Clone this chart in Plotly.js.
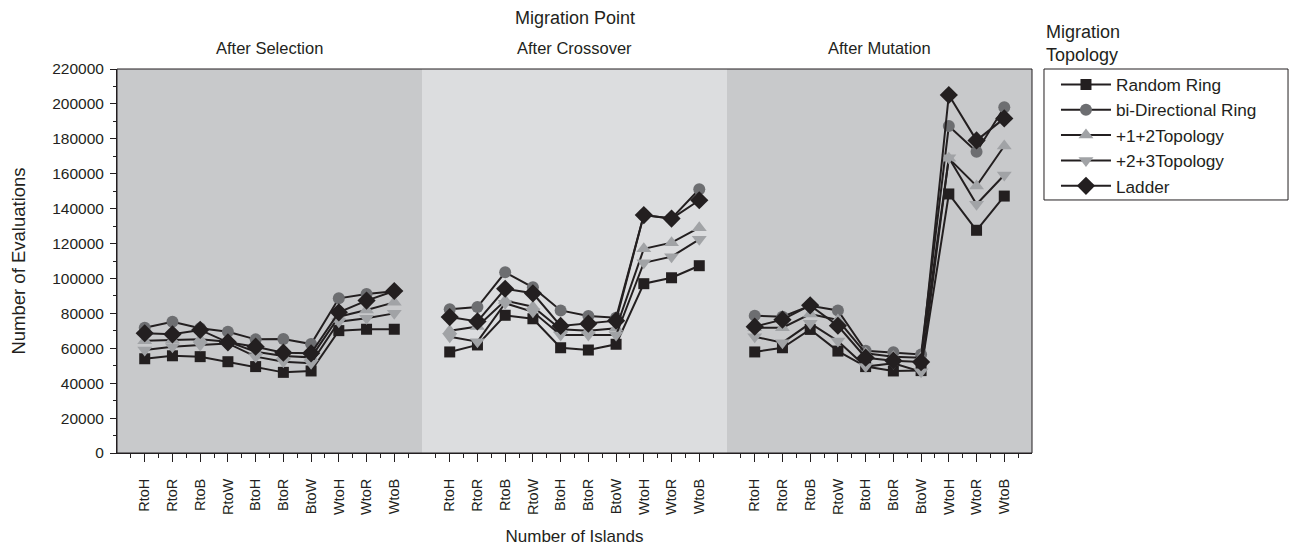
<!DOCTYPE html>
<html>
<head>
<meta charset="utf-8">
<script src="https://cdn.plot.ly/plotly-3.0.1.min.js"></script>
<style>html,body{margin:0;padding:0;background:#fff;}#chart{width:1290px;height:549px;}</style>
</head>
<body>
<div id="chart"></div>
<script>
// ---- data ----
const categories = ["RtoH","RtoR","RtoB","RtoW","BtoH","BtoR","BtoW","WtoH","WtoR","WtoB"];
const panels = ["After Selection","After Crossover","After Mutation"];
const seriesNames = ["Random Ring","bi-Directional Ring","+1+2Topology","+2+3Topology","Ladder"];

const randomRingSel = [54000,55700,55200,52300,49500,46200,47000,70100,70900,70900];
const randomRingCro = [57900,61900,78900,76900,60300,59000,62300,97000,100400,107300];
const randomRingMut = [57900,60300,70800,58400,49500,47000,47200,148400,127600,147200];

const biDirSel = [71800,75200,71500,69500,65100,65300,62400,88600,91100,92600];
const biDirCro = [82300,83600,103500,94900,81700,78500,77500,136300,134400,151100];
const biDirMut = [78700,78100,84400,81700,58600,57700,56500,187300,172600,198100];

const plus12Sel = [64300,64700,65100,63800,58000,55600,54800,78100,81900,86300];
const plus12Cro = [70100,72500,87300,83800,70900,70100,71400,117000,120500,129100];
const plus12Mut = [71800,71800,79600,76200,57100,55200,54600,168800,153000,175900];

const plus23Sel = [59000,60900,61900,62800,55200,52300,51400,75200,77200,80000];
const plus23Cro = [66600,63800,85800,80900,67600,67600,67600,109000,112500,122400];
const plus23Mut = [66600,63200,74300,64200,49500,51400,46600,169200,142500,159300];

const ladderSel = [68600,68000,70500,63400,60900,57500,57100,80600,87300,92800];
const ladderCro = [77900,75400,94100,91500,72800,74100,75800,136300,134300,144800];
const ladderMut = [72400,76400,84600,72900,54600,52900,52100,205100,179100,191700];

const yTickVals = [0,20000,40000,60000,80000,100000,120000,140000,160000,180000,200000,220000];

// ---- styles ----
const seriesData = [
  [randomRingSel, randomRingCro, randomRingMut],
  [biDirSel, biDirCro, biDirMut],
  [plus12Sel, plus12Cro, plus12Mut],
  [plus23Sel, plus23Cro, plus23Mut],
  [ladderSel, ladderCro, ladderMut]
];
const markerStyles = [
  {symbol:"square", size:11, color:"#231f20"},
  {symbol:"circle", size:12, color:"#6d6e71"},
  {symbol:"triangle-up", size:13, color:"#a1a3a6"},
  {symbol:"triangle-down", size:13, color:"#a1a3a6"},
  {symbol:"diamond", size:14, color:"#231f20"}
];
const lineColor = "#231f20";
const xIdx = categories.map((c, i) => i);

const traces = [];
panels.forEach((p, pi) => {
  seriesNames.forEach((name, si) => {
    const ms = markerStyles[si];
    traces.push({
      type: "scatter",
      mode: "lines+markers",
      name: name,
      legendgroup: name,
      showlegend: pi === 0,
      x: xIdx,
      y: seriesData[si][pi],
      xaxis: pi === 0 ? "x" : "x" + (pi + 1),
      yaxis: "y",
      line: {color: lineColor, width: 2},
      marker: {symbol: ms.symbol, size: ms.size, color: ms.color, line: {width: 0}},
      hoverinfo: "x+y+name"
    });
  });
});

const font = "Liberation Sans, Arial, sans-serif";
const ink = "#231f20";
const minorVals = [-0.5,0.5,1.5,2.5,3.5,4.5,5.5,6.5,7.5,8.5,9.5];
function xAxis(domain, withTitle) {
  const ax = {
    domain: domain,
    anchor: "y",
    range: [-1, 10],
    tickmode: "array",
    tickvals: xIdx,
    ticktext: categories,
    tickangle: -90,
    ticks: "outside",
    ticklen: 8,
    tickwidth: 1,
    tickcolor: ink,
    ticklabelstandoff: 11,
    minor: {tickmode: "array", tickvals: minorVals, ticks: "outside", ticklen: 4, tickwidth: 1, tickcolor: ink, showgrid: false},
    showline: true,
    linecolor: ink,
    linewidth: 1,
    showgrid: false,
    zeroline: false,
    fixedrange: true,
    tickfont: {family: font, size: 14.5, color: ink}
  };
  if (withTitle) {
    ax.title = {text: "Number of Islands", font: {family: font, size: 17, color: ink}, standoff: 16};
  }
  return ax;
}

const panelBg = ["#c8c9cb", "#dcdddf", "#c8c9cb"];
const shapes = panelBg.map((c, i) => ({
  type: "rect", layer: "below",
  xref: (i === 0 ? "x" : "x" + (i + 1)) + " domain", yref: "y domain",
  x0: 0, x1: 1, y0: 0, y1: 1,
  fillcolor: c, line: {width: 0}
}));
// frame around plot area
shapes.push({type: "rect", layer: "above", xref: "paper", yref: "paper", x0: 0, x1: 1, y0: 0, y1: 1,
  line: {color: ink, width: 1}, fillcolor: "rgba(0,0,0,0)"});
// legend box
shapes.push({type: "rect", layer: "above", xref: "paper", yref: "paper", x0: 1.0131, x1: 1.2798, y0: 0.6589, y1: 1.0,
  line: {color: ink, width: 1}, fillcolor: "rgba(0,0,0,0)"});

const annotations = [
  {text: "Migration Point", xref: "paper", yref: "paper", x: 0.5, y: 1.133, xanchor: "center", yanchor: "middle", showarrow: false, font: {family: font, size: 18, color: ink}},
  {text: "Migration<br>Topology", xref: "paper", yref: "paper", x: 1.013, y: 1.066, xanchor: "left", yanchor: "middle", align: "left", showarrow: false, font: {family: font, size: 18, color: ink}}
];
panels.forEach((p, i) => {
  annotations.push({text: p, xref: (i === 0 ? "x" : "x" + (i + 1)) + " domain", yref: "paper", x: 0.5, y: 1.055,
    xanchor: "center", yanchor: "middle", showarrow: false, font: {family: font, size: 16.5, color: ink}});
});

const layout = {
  width: 1290, height: 549,
  margin: {l: 117, r: 258, t: 69, b: 96, pad: 0},
  paper_bgcolor: "#ffffff",
  plot_bgcolor: "rgba(0,0,0,0)",
  font: {family: font, color: ink},
  showlegend: true,
  legend: {
    x: 1.0262, y: 1.006, xanchor: "left", yanchor: "top",
    borderwidth: 0, bgcolor: "rgba(0,0,0,0)",
    font: {family: font, size: 17.2, color: ink},
    itemwidth: 50, tracegroupgap: 0
  },
  xaxis: xAxis([0, 1/3], false),
  xaxis2: xAxis([1/3, 2/3], true),
  xaxis3: xAxis([2/3, 1], false),
  yaxis: {
    range: [0, 220000],
    tickmode: "array",
    tickvals: yTickVals,
    tickformat: "d",
    ticks: "outside", ticklen: 6, tickwidth: 1, tickcolor: ink,
    ticklabelstandoff: 3,
    minor: {dtick: 10000, tick0: 0, ticks: "outside", ticklen: 3, tickwidth: 1, tickcolor: ink, showgrid: false},
    showline: true, linecolor: ink, linewidth: 1,
    showgrid: false, zeroline: false, fixedrange: true,
    tickfont: {family: font, size: 15.5, color: ink},
    title: {text: "Number of Evaluations", font: {family: font, size: 18.5, color: ink}, standoff: 21}
  },
  shapes: shapes,
  annotations: annotations
};

Plotly.newPlot("chart", traces, layout, {displayModeBar: false});
</script>
</body>
</html>
